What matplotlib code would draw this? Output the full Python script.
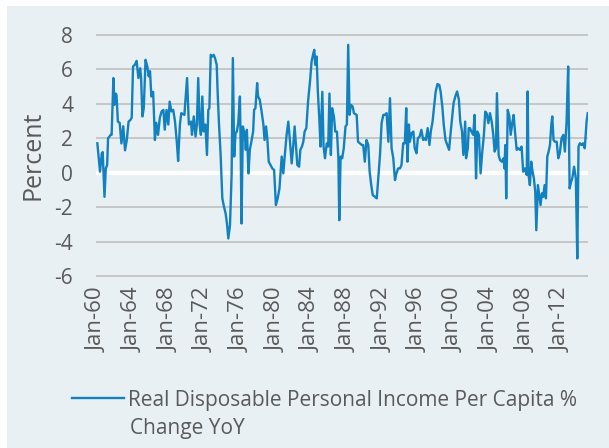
import matplotlib
matplotlib.use('Agg')
import matplotlib.pyplot as plt
from matplotlib.patches import Rectangle
import numpy as np

plt.rcParams['font.family'] = ['Open Sans', 'DejaVu Sans']

# decimal year, YoY % change
years = [
    1960.0, 1960.3, 1960.5, 1960.6, 1960.8, 1960.95, 1961.1, 1961.2, 1961.5, 1961.6,
    1961.8, 1961.9, 1962.05, 1962.15, 1962.3, 1962.5, 1962.7, 1962.9, 1963.1, 1963.3,
    1963.5, 1963.7, 1963.85, 1964.0, 1964.2, 1964.4, 1964.6, 1964.8, 1964.9, 1965.05,
    1965.2, 1965.4, 1965.6, 1965.75, 1965.9, 1966.05, 1966.25, 1966.45, 1966.6, 1966.8,
    1967.0, 1967.2, 1967.4, 1967.55, 1967.75, 1967.95, 1968.1, 1968.3, 1968.5, 1968.7,
    1968.9, 1969.05, 1969.25, 1969.4, 1969.75,
    1970.05, 1970.25, 1970.5, 1970.6, 1970.8, 1971.0, 1971.15, 1971.3, 1971.46, 1971.6,
    1971.76, 1971.9, 1972.1, 1972.28, 1972.43, 1972.55, 1972.7, 1972.88, 1973.03, 1973.18,
    1973.37, 1973.48, 1973.63, 1973.81, 1974.0, 1974.19, 1974.37, 1974.52, 1974.67, 1974.86,
    1975.04, 1975.18, 1975.33, 1975.48, 1975.63, 1975.78, 1975.97, 1976.05, 1976.15, 1976.3,
    1976.52, 1976.63, 1976.75, 1976.93, 1977.08, 1977.26, 1977.45, 1977.56, 1977.71, 1977.9,
    1978.0, 1978.2, 1978.4, 1978.6, 1978.73, 1978.9, 1979.05, 1979.2, 1979.4, 1979.6,
    1979.8, 1980.0, 1980.2, 1980.4,
    1980.65, 1980.83, 1981.0, 1981.2, 1981.39, 1981.58, 1981.77, 1981.95, 1982.1, 1982.25,
    1982.4, 1982.6, 1982.74, 1982.92, 1983.07, 1983.22, 1983.41, 1983.6, 1983.82, 1984.0,
    1984.2, 1984.3, 1984.4, 1984.56, 1984.7, 1984.86, 1985.0, 1985.2, 1985.34, 1985.5,
    1985.7, 1985.86, 1986.0, 1986.16, 1986.3, 1986.5, 1986.65, 1986.84, 1987.0, 1987.1,
    1987.25, 1987.43, 1987.6, 1987.8, 1987.95, 1988.1, 1988.25, 1988.4, 1988.6, 1988.74,
    1988.9, 1989.05, 1989.2, 1989.4, 1989.63, 1989.78, 1989.96, 1990.15, 1990.35, 1990.5,
    1990.68, 1990.85, 1991.1, 1991.3,
    1991.47, 1991.66, 1991.84, 1992.03, 1992.2, 1992.4, 1992.6, 1992.78, 1992.96, 1993.15,
    1993.34, 1993.5, 1993.7, 1993.9, 1994.07, 1994.26, 1994.44, 1994.6, 1994.74, 1994.9,
    1995.0, 1995.2, 1995.4, 1995.55, 1995.75, 1995.9, 1996.1, 1996.3, 1996.5, 1996.6,
    1996.8, 1997.0, 1997.2, 1997.35, 1997.55, 1997.7, 1997.9, 1998.1, 1998.3, 1998.45,
    1998.64, 1998.8, 1999.0, 1999.2, 1999.4, 1999.55, 1999.74, 1999.9, 2000.1, 2000.3,
    2000.5, 2000.65, 2000.85, 2001.0, 2001.2, 2001.3, 2001.5, 2001.6,
    2001.74, 2001.9, 2002.1, 2002.26, 2002.42, 2002.56, 2002.74, 2002.93, 2003.12, 2003.3,
    2003.45, 2003.6, 2003.8, 2003.98, 2004.17, 2004.35, 2004.5, 2004.65, 2004.76, 2004.95,
    2005.1, 2005.3, 2005.5, 2005.6, 2005.7, 2005.8, 2005.97, 2006.15, 2006.3, 2006.5,
    2006.63, 2006.78, 2006.97, 2007.15, 2007.33, 2007.52, 2007.7, 2007.9, 2008.1, 2008.2,
    2008.3, 2008.45, 2008.6, 2008.75, 2008.9, 2009.05, 2009.17, 2009.35, 2009.5, 2009.64,
    2009.8, 2009.94, 2010.1, 2010.25, 2010.4, 2010.55, 2010.7, 2010.85, 2010.96, 2011.1,
    2011.26, 2011.45, 2011.63, 2011.8, 2012.0, 2012.2, 2012.37, 2012.56, 2012.74, 2012.9,
    2013.07, 2013.2, 2013.4, 2013.6, 2013.76, 2013.9, 2014.05, 2014.24, 2014.4, 2014.6,
    2014.8, 2014.93,
]
income_yoy = [
    1.71, 0.06, 1.13, 1.2, -1.4, 0.25, 0.45, 2.0, 2.2, 2.2,
    5.5, 3.94, 4.6, 4.5, 2.97, 2.9, 1.7, 2.7, 1.3, 1.9,
    2.97, 3.06, 3.2, 6.17, 6.27, 6.5, 5.5, 6.07, 5.5, 3.27,
    3.75, 6.56, 6.17, 5.6, 5.9, 4.43, 4.7, 1.9, 2.9, 2.2,
    3.2, 3.56, 3.65, 2.5, 3.65, 2.8, 4.13, 3.56, 3.65, 2.97,
    1.8, 0.68, 2.8, 3.46, 3.36,
    5.5, 2.8, 2.97, 2.2, 3.27, 2.1, 2.8, 5.5, 2.8, 2.2,
    4.43, 2.4, 2.8, 1.03, 3.65, 3.75, 6.85, 6.75, 6.85, 6.66,
    6.27, 4.6, 2.8, 1.03, -1.49, -1.98, -2.37, -2.95, -3.82, -3.04,
    -0.13, 6.66, 0.94, 2.3, 2.39, 2.88, 4.43, 1.71, -2.95, 2.69,
    2.2, 1.33, 2.49, -0.04, 1.33, 1.82, 2.39, 3.65, 3.75, 5.21,
    4.43, 4.23, 3.55, 2.8, 1.9, 2.69, 1.9, 0.64, 0.45, 0.25,
    0.16, -1.88, -1.49, -0.91,
    0.94, -0.04, 1.03, 2.2, 2.97, 1.8, 0.54, 1.61, 2.69, 1.61,
    0.45, 0.35, 1.33, 1.52, 1.8, 2.39, 2.59, 4.13, 5.3, 6.47,
    6.95, 7.14, 6.27, 6.75, 4.7, 3.17, 1.52, 4.7, 1.52, 0.84,
    1.71, 1.52, 4.6, 1.03, 3.75, 3.27, 2.39, 2.39, 0.84, -2.76,
    0.94, 0.84, 1.42, 2.69, 2.8, 7.43, 3.36, 3.94, 3.85, 3.46,
    3.4, 3.36, 1.8, 1.71, 1.61, 1.61, 0.64, 1.9, 1.61, 0.06,
    -0.72, -1.3, -1.4, -1.49,
    -0.33, 1.03, 2.88, 3.36, 3.36, 3.46, 1.8, 4.33, 1.42, 0.84,
    -0.43, -0.04, 0.25, 0.25, 0.45, 1.71, 1.71, 3.75, 0.64, 2.8,
    1.8, 2.3, 2.39, 1.42, 1.13, 2.0, 2.1, 2.49, 1.9, 2.0,
    1.9, 2.59, 1.61, 2.39, 2.97, 3.75, 4.72, 5.15, 5.1, 4.72,
    3.85, 2.8, 1.9, 1.61, 1.33, 2.2, 3.17, 4.04, 4.43, 4.72,
    4.23, 2.97, 2.39, 1.03, 2.97, 0.84, 1.42, 2.59,
    2.59, 2.39, 2.2, 3.36, -0.33, 2.39, 2.2, -0.04, 1.23, 2.2,
    3.55, 3.46, 2.88, 3.46, 2.97, 2.2, 1.23, 1.42, 4.62, 1.03,
    0.74, 0.64, 0.84, 0.25, 1.61, -1.49, 3.65, 3.27, 2.2, 2.97,
    3.36, 2.39, 1.33, 1.42, 1.33, 1.52, 0.06, 0.25, -0.13, 4.72,
    -0.13, -0.72, 0.64, 0.06, -0.33, -1.1, -3.34, -0.72, -1.3, -1.88,
    -1.2, -1.4, -0.72, -1.49, 0.94, 1.23, 1.61, 2.8, 3.27, 1.9,
    1.8, 1.8, 0.84, 1.13, 2.0, 2.2, 1.23, 2.97, 6.17, -0.91,
    -0.52, -0.33, 0.35, -0.33, -4.98, 1.52, 1.71, 1.61, 1.71, 1.42,
    2.97, 3.46,
]
tick_years = list(range(1960, 2013, 4))
tick_labels = ['Jan-%02d' % (y % 100) for y in tick_years]
y_ticks = [-6, -4, -2, 0, 2, 4, 6, 8]

bg = '#e9f0f3'
text_color = '#595959'
line_color = '#1281c0'

W, H = 609, 448
fig = plt.figure(figsize=(W / 100, H / 100), dpi=100, facecolor='white')
fig.patches.append(Rectangle((7 / W, 0), 1 - 7 / W, 1 - 6 / H, transform=fig.transFigure,
                             facecolor=bg, edgecolor='none', zorder=-10))

ax = fig.add_axes([96 / W, 1 - 276.5 / H, 492 / W, 242 / H])
ax.set_facecolor('none')
ax.plot(years, income_yoy, color=line_color, lw=1.7, zorder=3,
        label='Real Disposable Personal Income Per Capita %')
ax.axhline(0, color='white', lw=3, zorder=2)

ax.set_xlim(1959.85, 2014.96)
ax.set_ylim(-6.03, 8.03)
ax.set_yticks(y_ticks)
ax.set_yticklabels([str(v) for v in y_ticks])
ax.set_xticks(tick_years)
ax.set_xticklabels(tick_labels, rotation=90)
ax.tick_params(axis='both', length=0, colors=text_color)
ax.tick_params(axis='y', pad=16.5, labelsize=15)
ax.tick_params(axis='x', pad=8, labelsize=16)
ax.yaxis.grid(True, color='#bfbfbf', lw=1.2, zorder=1)
ax.set_axisbelow(True)
for s in ax.spines.values():
    s.set_visible(False)

ax.set_ylabel('Percent', fontsize=18, color=text_color)
ax.yaxis.set_label_coords(-0.102, 0.5)

leg = fig.legend(loc='center left', bbox_to_anchor=(72 / W, 1 - 400 / H), frameon=False,
                 fontsize=15, handlelength=2.5, handletextpad=0.2, borderpad=0,
                 borderaxespad=0, labelcolor=text_color)
fig.text(130 / W, 1 - 428 / H, 'Change YoY', fontsize=15, color=text_color,
         va='center', ha='left')

fig.savefig('out.png', dpi=100, facecolor=fig.get_facecolor())
